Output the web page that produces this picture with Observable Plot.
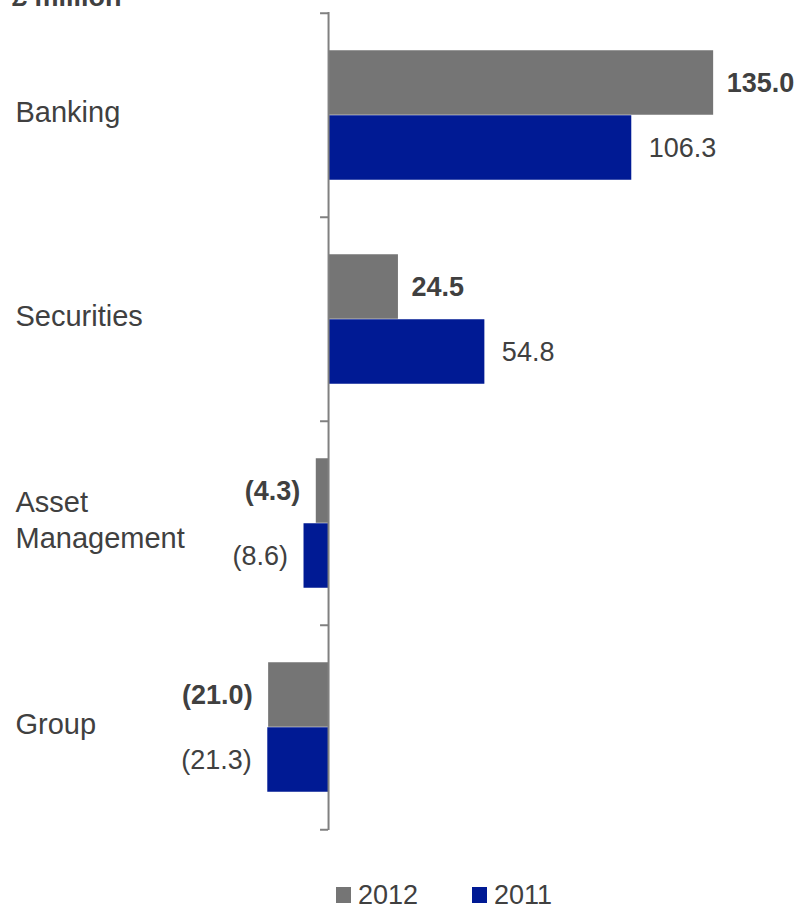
<!DOCTYPE html>
<html><head><meta charset="utf-8">
<script src="https://cdn.jsdelivr.net/npm/d3@7"></script>
<script src="https://cdn.jsdelivr.net/npm/@observablehq/plot@0.6"></script>
<style>
body{margin:0;background:#fff;font-family:"Liberation Sans",Arial,Helvetica,sans-serif;}
#wrap{position:relative;width:803px;height:907px;overflow:hidden;}
#title{position:absolute;left:12px;top:-16px;font-size:27px;line-height:27px;font-weight:bold;color:#404040;white-space:nowrap;}
#chart{position:absolute;left:0;top:0;}
.lg{position:absolute;font-size:27px;line-height:20px;color:#404040;}
.sw{position:absolute;width:15px;height:16px;}
</style></head>
<body>
<div id="wrap">
  <div id="chart"></div>
  <div id="title">£ million</div>
  <div id="legend"></div>
</div>
<script>
const categories = ["Banking", "Securities", "Asset Management", "Group"];
const years = ["2012", "2011"];
const values2012 = [135.0, 24.5, -4.3, -21.0];
const values2011 = [106.3, 54.8, -8.6, -21.3];
const colors = ["#757575", "#001a94"];

const W = 803, H = 850, mt = 12, mb = 20;
const bw = (H - mt - mb) / categories.length;
const xDomain = [-115, 166.5];
const pxPerUnit = W / (xDomain[1] - xDomain[0]);
const barH = 65;
const fmt = d => d.v < 0 ? `(${Math.abs(d.v).toFixed(1)})` : d.v.toFixed(1);

const r12 = categories.map((c, i) => ({cat: c, year: years[0], v: values2012[i]}));
const r11 = categories.map((c, i) => ({cat: c, year: years[1], v: values2011[i]}));
const labelColor = "#404040";

const chart = Plot.plot({
  width: W, height: H,
  marginTop: mt, marginBottom: mb, marginLeft: 0, marginRight: 0,
  style: {fontFamily: "Liberation Sans, Arial, Helvetica, sans-serif", fontSize: "27px", background: "#fff"},
  x: {domain: xDomain, axis: null},
  y: {domain: categories, padding: 0, axis: null},
  marks: [
    Plot.barX(r12, {x: "v", y: "cat", fill: colors[0], insetTop: bw / 2 - barH, insetBottom: bw / 2}),
    Plot.barX(r11, {x: "v", y: "cat", fill: colors[1], insetTop: bw / 2, insetBottom: bw / 2 - barH}),
    Plot.ruleX([0], {stroke: "#808080", strokeWidth: 2}),
    Plot.ruleY(categories, {y: d => d, x1: -8 / pxPerUnit, x2: 0, dy: -bw / 2, stroke: "#808080", strokeWidth: 2}),
    Plot.ruleY([categories[categories.length - 1]], {y: d => d, x1: -8 / pxPerUnit, x2: 0, dy: bw / 2, stroke: "#808080", strokeWidth: 2}),
    Plot.text(r12.filter(d => d.v >= 0), {x: "v", y: "cat", text: fmt, dy: -barH / 2, dx: 13, textAnchor: "start", fontWeight: "bold", fill: labelColor, fontSize: 27}),
    Plot.text(r12.filter(d => d.v < 0), {x: "v", y: "cat", text: fmt, dy: -barH / 2, dx: -16, textAnchor: "end", fontWeight: "bold", fill: labelColor, fontSize: 27}),
    Plot.text(r11.filter(d => d.v >= 0), {x: "v", y: "cat", text: fmt, dy: barH / 2, dx: 17, textAnchor: "start", fill: labelColor, fontSize: 27}),
    Plot.text(r11.filter(d => d.v < 0), {x: "v", y: "cat", text: fmt, dy: barH / 2, dx: -16, textAnchor: "end", fill: labelColor, fontSize: 27}),
    Plot.text(categories, {text: d => d, y: d => d, frameAnchor: "left", textAnchor: "start", dx: 15, dy: -5, lineWidth: 7, lineHeight: 1.22, fill: labelColor, fontSize: 29})
  ]
});
document.getElementById("chart").appendChild(chart);

const legend = document.getElementById("legend");
const lgPos = [336, 472];
years.forEach((y, i) => {
  const sw = document.createElement("div");
  sw.className = "sw"; sw.style.left = lgPos[i] + "px"; sw.style.top = "887px"; sw.style.background = colors[i];
  legend.appendChild(sw);
  const t = document.createElement("div");
  t.className = "lg"; t.style.left = (lgPos[i] + 22) + "px"; t.style.top = "885px"; t.textContent = y;
  legend.appendChild(t);
});
</script>
</body></html>
